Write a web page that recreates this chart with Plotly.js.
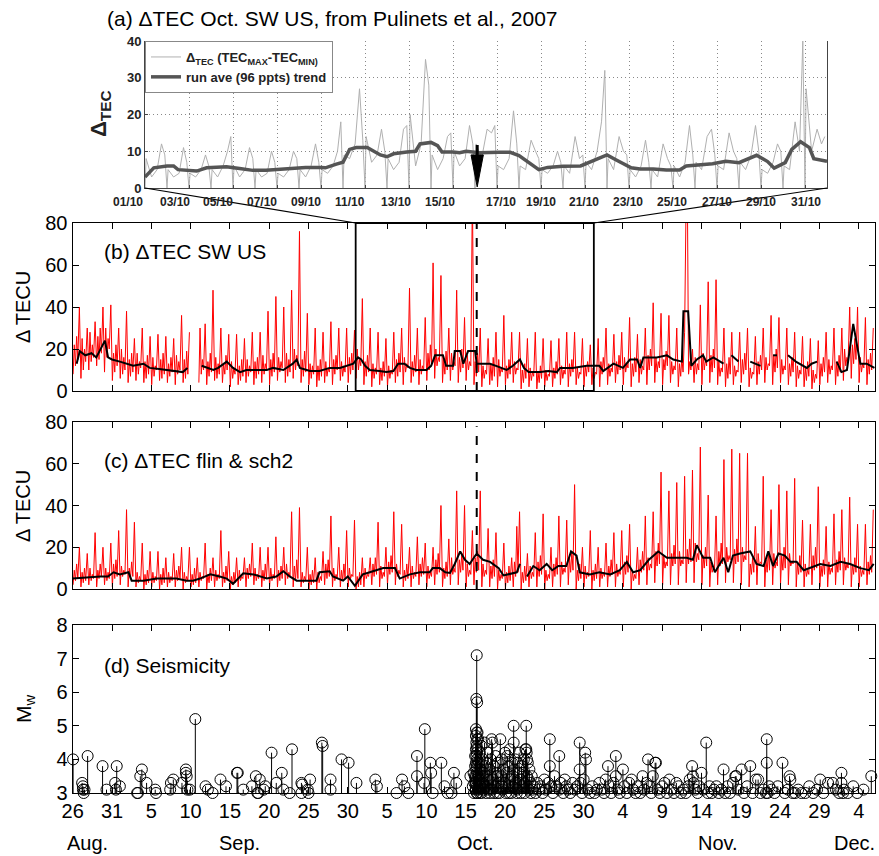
<!DOCTYPE html>
<html><head><meta charset="utf-8">
<script src="https://cdn.plot.ly/plotly-3.0.1.min.js"></script>
<style>html,body{margin:0;padding:0;background:#fff}#chart{width:879px;height:856px}</style>
</head><body><div id="chart"></div>
<script>
// ---------------- DATA ----------------
// x of panels b-d: days since 26 Aug 2007
const xTickLabels = ['26','31','5','10','15','20','25','30','5','10','15','20','25','30','4','9','14','19','24','29','4'];
const monthLabels = ['Aug.','Sep.','Oct.','Nov.','Dec.'];
const aTickLabels = ['01/10','03/10','05/10','07/10','09/10','11/10','13/10','15/10','17/10','19/10','21/10','23/10','25/10','27/10','29/10','31/10'];

// (b) dTEC SW US, 6 samples per day
const tecSW = [
 8,22,12,26,15,40, 6,25,10,20,14,30, 10,28,14,22,16,33, 12,26,15,30,18,40, 9,30,16,25,20,41,
 5,18,9,22,12,30, 6,20,8,16,10,38, 4,15,7,18,9,25, 5,18,8,14,11,30, 4,14,6,17,8,26,
 3,16,7,12,10,27, 5,15,6,18,8,26, 4,13,7,16,9,25, 3,17,8,14,10,36, 4,15,6,19,8,28,
 null,null,null,null,null,null, 4,30,8,15,10,32, 3,14,7,18,9,48, 5,16,6,13,8,30, 4,13,8,17,10,27,
 2,14,6,11,8,27, 3,12,5,15,7,25, 4,15,7,12,9,28, 3,14,6,16,8,28, 4,17,8,13,10,38,
 3,15,7,18,9,45, 5,16,9,14,11,40, 4,18,7,15,9,48, 6,20,10,17,12,76, 4,15,7,19,9,37,
 3,13,6,12,8,30, 2,12,5,15,7,28, 4,14,7,11,9,33, 3,15,8,17,10,30, 5,14,7,12,9,30,
 4,16,8,18,10,29, 6,20,10,15,12,44, 3,14,7,17,9,30, 2,13,6,11,8,28, 3,11,5,14,7,25,
 2,12,6,10,8,28, 4,15,7,18,9,30, 3,16,9,13,11,49, 4,14,7,17,9,30, 3,15,8,12,10,35,
 5,18,10,22,12,61, 6,20,12,16,14,55, 4,15,8,19,10,30, 5,18,10,14,12,48, 4,16,9,20,11,35,
 5,17,10,14,12,95, 3,14,7,18,9,30, 2,12,6,10,8,25, 3,13,5,16,7,28, 2,15,7,11,9,36,
 3,12,6,15,8,28, 4,14,8,11,10,28, 1,10,4,13,6,25, 2,11,5,9,7,28, 1,9,4,12,6,25,
 2,10,5,8,7,24, 2,11,6,14,8,25, 3,12,6,10,8,28, 2,13,7,15,9,28, 3,11,6,9,8,25,
 2,12,7,14,9,22, 3,11,6,9,8,25, 2,14,8,16,10,30, 3,13,7,11,9,27, 4,14,8,17,10,28,
 3,16,9,13,11,35, 2,13,7,16,9,27, 4,15,8,12,10,30, 3,17,10,20,12,42, 4,16,9,14,11,37,
 3,15,10,19,12,36, 4,14,8,12,10,30, 2,13,7,16,9,28, 95,95,8,14,10,20, 4,16,8,13,10,41,
 3,18,10,15,12,52, 4,17,9,20,11,53, 3,14,7,11,9,30, 2,13,6,16,8,28, 3,12,7,10,9,28,
 4,15,8,18,10,30, 2,11,6,9,8,26, 3,14,8,17,10,30, 4,16,10,13,12,36, 3,17,9,20,11,35,
 4,15,8,12,10,30, 3,13,7,16,9,28, 2,12,6,10,8,26, 2,11,5,14,7,25, 1,10,4,8,6,24,
 3,13,7,16,9,28, 4,15,8,12,10,30, 3,14,7,17,9,30, 5,20,12,16,14,40, 6,22,13,25,15,40,
 4,16,9,13,11,35, 3,15,8,18,10,30
];
// (c) dTEC flin & sch2, 6 samples per day
const tecFS = [
 2,9,4,12,5,20, 1,8,3,10,4,17, 2,10,4,7,5,27, 1,9,5,12,6,20, 2,10,4,8,5,22,
 1,12,5,14,6,28, 2,11,6,9,7,38, 1,10,5,13,6,32, 1,8,3,6,4,22, 0,7,2,9,3,18,
 1,8,3,6,4,18, 0,7,2,10,3,15, 1,8,3,6,4,17, 1,9,4,11,5,20, 0,8,3,6,4,20,
 1,7,2,10,3,15, 1,8,4,6,5,22, 0,7,3,10,4,15, 1,9,4,7,5,28, 1,8,3,11,4,18,
 0,6,2,8,3,15, 1,9,4,6,5,15, 1,10,5,12,6,22, 2,10,4,7,5,20, 1,9,4,12,5,20,
 1,10,4,7,5,25, 1,9,4,11,5,20, 2,12,5,8,6,37, 1,11,4,14,5,39, 1,8,3,6,4,20,
 0,7,2,9,3,15, 0,8,3,6,4,18, 2,12,5,14,6,35, 1,10,4,7,5,20, 1,9,4,12,5,28,
 1,10,5,7,6,33, 0,6,1,8,2,15, 1,10,5,7,6,15, 2,12,6,15,7,32, 1,11,5,8,6,20,
 2,13,7,16,8,37, 2,12,6,9,7,31, 1,9,4,12,5,20, 1,11,5,8,6,25, 2,12,6,15,7,22,
 1,11,5,8,6,20, 2,14,7,17,8,40, 1,10,5,13,6,24, 2,15,7,10,8,47, 2,14,8,17,9,40,
 1,12,6,9,7,28, 2,15,8,18,9,47, 1,12,6,9,7,29, 1,11,5,14,6,27, 0,9,4,7,5,22,
 0,8,3,11,4,15, 1,13,6,30,8,37, 0,8,3,11,4,17, 1,11,5,8,6,27, 1,13,6,16,7,36,
 0,9,4,7,5,20, 1,12,6,15,7,35, 1,13,7,10,8,33, 2,15,8,18,9,50, 0,9,4,12,5,20,
 1,11,5,8,6,28, 0,9,4,12,5,20, 1,10,5,8,6,22, 1,11,6,14,7,27, 1,12,6,9,7,28,
 1,13,7,16,8,31, 0,9,4,7,5,20, 2,14,8,18,9,35, 2,15,9,12,10,37, 3,18,11,22,12,56,
 2,16,10,13,11,47, 2,17,11,21,12,51, 2,18,11,14,12,54, 3,19,12,24,13,57, 3,22,13,17,14,68,
 2,16,10,20,11,45, 1,13,8,10,9,35, 2,18,11,22,12,62, 3,20,13,16,14,67, 3,19,12,24,13,65,
 2,20,13,16,14,65, 1,12,7,15,8,30, 2,17,11,13,12,54, 1,14,8,18,9,38, 2,17,10,13,11,50,
 2,16,9,20,10,47, 2,17,11,13,12,53, 1,12,7,16,8,33, 1,12,6,9,7,31, 2,16,9,20,10,49,
 1,11,6,14,7,30, 1,13,7,10,8,36, 2,14,8,18,9,38, 2,15,9,12,10,44, 1,12,7,15,8,31,
 1,11,6,9,7,31, 2,13,7,16,8,38
];
// running-average trends [day, value]
const trendSW = [[0.5,13],[0.9,19],[1.6,17],[2.4,18],[3.0,16],[3.5,20],[4.1,24],[4.5,16],[5.0,15],[6.0,14],
 [6.9,13],[7.7,12],[9.0,13],[9.8,11],[11,10.5],[12,10],[13,9.5],[14,9],[14.6,11],[15.5,null],
 [16.4,12],[17.2,11],[17.9,10],[18.5,11],[19.6,14],[20.4,11],[21.3,9],[22.1,10],[23.5,10],[24.7,10],
 [25.5,11],[26.8,10],[28.0,13],[28.5,15],[28.9,11],[30.2,9.5],[31.4,9.5],[32.7,11],[34.0,11],[35.0,12],
 [35.7,13],[36.3,16],[36.7,15],[37.2,12],[37.8,10],[39.0,9.5],[39.9,9],[40.8,9.5],[41.4,13],[42.2,13],
 [42.9,11],[43.7,10],[45.0,10],[45.6,12],[46.1,17],[47.1,17],[47.5,12],[48.4,12],[48.6,19],[49.3,19],
 [49.7,13],[50.3,19],[51.2,19],[51.4,13],[53.1,13],[54.2,11.5],[55.2,10],[56.0,12],[56.9,15],[57.4,11],
 [58.0,9],[59.5,9],[60.5,9.5],[61.6,9],[62.0,11],[63.6,11],[64.5,11.5],[65.4,12],[67.0,12],[67.5,9.5],
 [68.8,13],[70.0,11],[70.9,15],[71.8,15],[72.2,11],[72.6,16],[74.3,16],[75.0,16.5],[75.6,17],[76.4,15],
 [77.0,14.5],[77.5,14],[77.7,38],[78.3,38],[78.7,12],[79.4,15],[80.2,17],[80.6,14],[81.5,16],[82.8,13],
 [83.3,null],[83.8,17],[84.7,14],[85.5,null],[86.2,14],[87.5,12],[88.3,null],[89.1,17],[89.6,17],[90.3,null],
 [91.0,17],[92.0,14],[93.4,11],[94.0,13],[94.7,14],[96.0,null],[97.2,14],[97.8,9],[98.5,10],[99.3,32],
 [100.2,13],[101.0,13],[102.0,11]];
const trendFS = [[0,5],[1.5,5.5],[3.5,6],[4.5,6],[5.2,8],[6,7],[7.1,8],[7.5,4],[9,4],[10.7,5],
 [13.2,5],[14.5,4],[15.3,4],[16.2,5],[17.5,7],[18.7,6],[19.6,5],[20.4,2.5],[21.7,7.5],[23,7],
 [23.8,6],[24.7,5],[25.9,6],[26.8,8.5],[27.6,6],[28.5,4],[31,4],[31.4,8],[32.7,8.5],[33.1,6],
 [34.4,4],[35,6],[35.9,1.5],[36.9,7],[37.8,8],[39.5,10],[41,10],[41.6,5],[42.9,7],[44.2,8],
 [45.4,8],[45.8,10],[46.7,10],[47.4,8],[48,7.7],[48.6,12],[49.3,18],[49.9,14],[50.5,12],[50.9,14],
 [51.4,17],[52.2,14],[53.1,13],[54.2,10],[54.8,6.5],[56.5,8],[56.9,12],[57.3,null],[57.8,6],[58.6,11],
 [59.4,9],[60.3,12],[61,9],[61.8,11],[62.8,11],[63.4,18],[64.1,16],[64.5,8],[65.8,7],[67,8],
 [68.4,7],[69.6,9],[70.5,13],[71.3,8],[72.2,9],[73.3,14],[74.5,18],[75.6,15],[76.4,15],[78.1,15],
 [78.9,14],[79.4,21],[80.2,15],[81.1,15],[81.7,8],[82.8,15],[83.4,8],[84,16],[84.9,17],[86.2,18],
 [87,12],[87.9,11],[88.5,18],[89.1,11],[89.8,17],[90.6,16],[91.3,13],[92.1,13],[93,9],[93.8,10],
 [95.1,12],[96.4,11],[97.7,13],[98.9,12],[100.2,10],[101.3,9],[101.9,12]];

// (a) Pulinets et al. October series (days since 1 Oct), 6 samples per day
const tecPulinets = [
 0,8,3,5,12,9, 0,5,3,4,11,7, 0,4,3,5,9,6, 0,5,3,6,10,14, 0,6,3,5,11,8,
 0,5,3,4,10,7, 0,4,3,5,10,8, 0,5,3,6,12,7, 0,5,4,6,10,18, 0,9,8,12,27,13,
 0,14,7,9,16,10, 0,8,5,7,16,17, 0,20,6,12,35,28, 0,9,5,8,14,15, 0,10,6,8,17,12,
 0,12,8,16,15,17, 0,6,5,8,21,12, 0,6,5,13,10,8, 0,5,4,6,10,7, 0,6,4,14,8,9,
 0,7,5,10,18,32, 0,8,5,14,10,9, 0,5,3,6,13,7, 0,5,3,12,8,6, 0,6,3,7,17,9,
 0,7,5,14,16,9, 0,6,5,15,10,8, 0,7,5,9,17,10, 0,5,4,7,12,10, 0,6,5,18,10,40,
 0,27,10,16,12,14
];
const trendPulinets = [[0,3],[0.4,5.5],[1,6],[1.3,6],[1.5,5],[2.35,4.6],[2.8,5.5],[3.7,5.8],[4.3,5.3],[4.9,4.8],
 [5.5,4.8],[6,5],[6.6,5.4],[7.3,5.6],[8,5.6],[8.2,5.5],[8.7,6.5],[9,7],[9.3,10.5],[9.6,11],
 [10.1,11],[10.4,10],[10.7,9],[11,8.5],[11.3,9.3],[11.9,9.8],[12.3,10],[12.5,12],[13,12.4],[13.3,11.5],
 [13.5,9.8],[14,9.8],[14.3,9.6],[14.6,10],[15.2,9.6],[16.1,9.7],[16.6,9.7],[17,8.8],[17.5,6.6],[17.9,5],
 [18.3,5.6],[19,5.9],[19.8,6],[20.4,7.4],[21,9],[21.4,7.7],[22.1,5.5],[22.5,5.2],[23.1,5.2],[23.7,4.9],
 [24.3,4.9],[24.6,6],[25.2,6.2],[25.8,6.6],[26.4,7.3],[27,6.9],[27.8,8.9],[28.3,7.2],[28.6,5.4],[29.1,6.9],
 [29.4,10.5],[29.8,12.6],[30.2,11],[30.4,8],[31,7.3]];

// (d) earthquakes [day since 26 Aug, Mw]
const quakes = [
 [0.05,4.0],[1.2,3.3],[1.3,3.2],[1.3,3.1],[1.4,3.0],[1.5,3.1],[1.9,4.1],[3.8,3.8],[4.3,3.1],[5.4,3.3],
 [5.6,3.8],[5.5,3.1],[6.0,3.2],[8.2,3.0],[8.3,3.0],[8.6,3.5],[8.8,3.7],[9.4,3.3],[10.5,3.1],[10.6,3.0],
 [12.4,3.1],[12.5,3.3],[12.8,3.4],[13.9,3.3],[14.4,3.7],[14.4,3.6],[14.5,3.5],[14.6,3.1],[14.9,3.1],[15.6,5.2],
 [16.9,3.2],[17.2,3.1],[17.8,3.0],[18.8,3.4],[19.5,3.2],[20.9,3.6],[21.0,3.6],[21.7,3.1],[22.8,3.2],[23.3,3.5],
 [23.5,3.0],[23.6,3.0],[23.8,3.4],[24.3,3.1],[24.5,3.2],[25.3,4.2],[25.9,3.3],[26.6,3.6],[26.8,3.1],[27.6,3.0],
 [27.9,4.3],[29.1,3.3],[29.2,3.25],[29.1,3.0],[29.9,3.1],[30.0,3.0],[30.2,3.4],[31.7,4.5],[31.8,4.4],[32.8,3.4],
 [32.8,3.1],[34.2,4.0],[35.1,3.9],[36.1,3.3],[38.5,3.4],[38.7,3.2],[41.2,3.0],[41.9,3.4],[42.2,3.2],[42.7,3.0],
 [43.8,4.1],[43.8,3.5],[44.7,3.3],[44.8,4.9],[45.5,3.9],[45.6,3.6],[45.8,3.0],[46.9,3.9],[47.3,3.2],[47.7,3.0],
 [48.2,3.0],[48.5,3.6],[48.8,3.3],[50.6,3.5],[50.9,3.2],[51.0,3.6],[51.05,3.0],[51.1,3.3],[51.15,3.5],[51.2,4.1],
 [51.2,3.8],[51.4,7.1],[51.35,5.8],[51.45,5.7],[51.3,4.9],[51.4,4.8],[51.5,4.8],[51.3,4.7],[51.45,4.6],[51.35,4.5],
 [51.4,4.4],[51.3,4.3],[51.5,4.3],[51.4,4.2],[51.35,4.1],[51.45,4.0],[51.3,3.9],[51.5,3.9],[51.4,3.8],[51.35,3.7],
 [51.45,3.6],[51.3,3.5],[51.5,3.5],[51.4,3.4],[51.35,3.3],[51.45,3.2],[51.3,3.1],[51.5,3.0],[51.4,3.0],[51.6,4.6],
 [51.7,3.9],[51.8,4.2],[51.7,3.4],[51.9,3.7],[52.0,4.4],[52.1,3.3],[52.2,4.0],[52.3,3.6],[52.4,4.5],[52.5,3.2],
 [52.6,3.9],[52.7,3.5],[52.8,4.2],[52.9,3.1],[53.0,3.7],[51.6,3.1],[51.8,3.0],[52.0,3.0],[52.3,3.1],[52.6,3.0],
 [52.9,3.4],[53.1,3.0],[51.9,3.2],[52.2,3.5],[52.5,3.8],[53.2,4.0],[53.3,4.6],[53.4,4.5],[53.5,3.4],[53.6,3.8],
 [53.7,3.2],[53.8,4.1],[53.9,3.6],[54.0,3.0],[54.1,3.9],[54.2,3.3],[54.4,4.6],[54.5,3.5],[54.6,4.0],[54.7,3.1],
 [54.8,3.7],[54.9,3.3],[55.0,4.2],[53.3,3.1],[53.6,3.0],[54.0,3.5],[54.3,3.0],[54.6,3.2],[55.1,3.0],[55.2,3.6],
 [55.3,4.1],[55.4,3.2],[55.5,3.8],[55.6,4.3],[55.7,3.4],[55.8,3.0],[55.9,3.9],[56.0,3.5],[56.1,5.0],[56.1,4.5],
 [56.2,3.7],[56.3,4.0],[56.4,3.3],[56.5,3.1],[56.6,3.9],[56.7,3.6],[56.8,4.2],[56.9,3.4],[57.0,3.0],[57.1,3.8],
 [57.2,3.2],[57.3,3.6],[57.4,4.0],[57.5,3.3],[57.6,4.3],[57.7,5.0],[57.7,4.3],[57.75,4.2],[57.8,4.0],[57.8,3.5],
 [57.9,3.9],[58.0,3.1],[58.1,3.7],[58.2,3.3],[58.3,3.0],[58.4,3.5],[58.5,3.1],[55.5,3.0],[56.0,3.2],[56.5,3.0],
 [57.0,3.4],[57.5,3.0],[58.0,3.4],[58.7,3.2],[58.9,3.0],[59.1,3.3],[59.3,3.1],[59.5,3.2],[59.8,3.0],[60.0,3.4],
 [60.2,3.1],[60.5,3.3],[60.7,4.6],[60.7,3.8],[60.9,3.2],[61.1,3.0],[61.3,3.5],[61.5,3.2],[61.9,4.1],[61.9,3.1],
 [62.1,3.3],[62.4,3.0],[62.6,3.4],[62.8,3.2],[63.0,3.1],[63.3,3.0],[63.6,3.3],[63.9,3.1],[64.2,3.2],[64.5,4.5],
 [64.5,3.7],[64.6,3.3],[64.8,3.0],[65.0,3.4],[65.2,4.2],[65.3,4.0],[65.5,3.1],[65.8,3.0],[66.1,3.2],[66.4,3.0],
 [66.7,3.1],[67.0,3.3],[67.3,3.1],[67.6,3.0],[67.8,3.4],[68.1,3.8],[68.3,3.2],[68.5,3.0],[68.8,3.3],[69.1,4.1],
 [69.1,3.5],[69.3,3.1],[69.6,3.0],[70.0,3.7],[70.2,3.2],[70.5,3.0],[70.8,3.3],[71.1,3.4],[71.3,3.1],[71.6,3.0],
 [71.9,3.2],[72.2,3.0],[72.5,3.5],[72.7,3.1],[73.0,3.3],[73.2,4.0],[73.4,3.2],[73.6,3.0],[73.8,3.5],[74.1,3.9],
 [74.2,3.9],[74.4,3.1],[74.7,3.0],[75.0,3.2],[75.3,3.3],[75.6,3.0],[75.9,3.4],[76.2,3.1],[76.5,3.0],[76.8,3.3],
 [77.1,3.2],[77.4,3.0],[77.7,3.1],[78.0,3.0],[78.3,3.2],[78.5,3.4],[78.8,3.8],[78.9,3.5],[79.0,3.3],[79.2,3.1],
 [79.5,3.0],[79.7,3.2],[80.0,3.6],[80.2,3.1],[80.6,4.5],[80.8,3.0],[81.0,3.2],[81.3,3.0],[81.6,3.1],[81.9,3.2],
 [82.2,3.0],[82.5,3.1],[82.8,3.7],[83.0,3.0],[83.3,3.2],[83.6,3.0],[84.0,3.3],[84.3,3.5],[84.4,3.5],[84.7,3.1],
 [85.1,3.7],[85.4,3.0],[85.8,3.2],[86.2,3.8],[86.5,3.0],[86.9,3.4],[87.2,3.4],[87.5,3.0],[87.9,3.1],[88.2,3.0],
 [88.3,4.6],[88.3,3.9],[88.4,3.0],[88.6,3.2],[88.9,3.1],[89.3,3.0],[89.7,3.2],[90.3,3.9],[90.6,3.0],[91.0,3.1],
 [91.2,3.5],[91.3,3.4],[91.6,3.0],[91.9,3.0],[92.3,3.1],[92.7,3.0],[93.2,3.0],[93.7,3.2],[94.2,3.0],[94.7,3.1],
 [95.1,3.4],[95.5,3.0],[96.1,3.3],[96.7,3.3],[97.1,3.1],[97.5,3.0],[97.8,3.6],[97.8,3.3],[98.0,3.0],[98.1,3.1],
 [98.6,3.0],[99.3,3.2],[99.8,3.0],[100.6,3.1],[101.6,3.5]
];

// ---------------- LAYOUT CONSTANTS ----------------
const W = 879, H = 856;
const FONT = 'Liberation Sans, Arial, Helvetica, sans-serif';
const xp = p => p / W, yp = p => 1 - p / H;
const domAx = [xp(145), xp(827)], domAy = [yp(188), yp(41)];
const domX = [xp(72.7), xp(875)];
const domB = [yp(391), yp(223)], domC = [yp(589), yp(422)], domD = [yp(793), yp(625)];
const XMAX = 102.07, AMAX = 31;
const eqDay = 51.4;          // dashed marker (days since 26 Aug)
const eqDayA = 15.1;         // arrow in panel (a) (days since 1 Oct)
const boxStart = 36, boxEnd = 66.3;
const monthPos = [1.9, 21.2, 51.2, 82.1, 99.5];
// label anchors of the pasted panel (a) (days since 1 Oct)
const aTickLabelPos = [-0.79, 1.36, 3.33, 5.32, 7.31, 9.31, 11.41, 13.41, 16.2, 17.98, 19.95, 21.95, 23.95, 25.99, 27.99, 30.04];
const sampleOffsets6 = [0.05, 0.2, 0.35, 0.5, 0.65, 0.85];
const sampleOffsetsA = [0, 0.05, 0.3, 0.55, 0.75, 0.9];

function expand(vals, offs) {
  const x = [], y = [];
  vals.forEach((v, i) => { x.push(Math.floor(i / offs.length) + offs[i % offs.length]); y.push(v); });
  return {x, y};
}
const sw = expand(tecSW, sampleOffsets6);
const fs = expand(tecFS, sampleOffsets6);
const pa = expand(tecPulinets, sampleOffsetsA);

const traces = [
  {x: pa.x, y: pa.y, xaxis: 'x', yaxis: 'y', mode: 'lines', line: {color: '#b0b0b0', width: 1},
   name: 'Δ<sub>TEC</sub> (TEC<sub>MAX</sub>-TEC<sub>MIN)</sub>', showlegend: true},
  {x: trendPulinets.map(p => p[0]), y: trendPulinets.map(p => p[1]), xaxis: 'x', yaxis: 'y', mode: 'lines',
   line: {color: '#555555', width: 3.5}, name: 'run ave (96 ppts) trend', showlegend: true},
  {x: sw.x, y: sw.y, xaxis: 'x2', yaxis: 'y2', mode: 'lines', line: {color: '#ff0000', width: 1}, showlegend: false, connectgaps: false},
  {x: trendSW.map(p => p[0]), y: trendSW.map(p => p[1]), xaxis: 'x2', yaxis: 'y2', mode: 'lines',
   line: {color: '#000', width: 2}, showlegend: false, connectgaps: false},
  {x: fs.x, y: fs.y, xaxis: 'x3', yaxis: 'y3', mode: 'lines', line: {color: '#ff0000', width: 1}, showlegend: false},
  {x: trendFS.map(p => p[0]), y: trendFS.map(p => p[1]), xaxis: 'x3', yaxis: 'y3', mode: 'lines',
   line: {color: '#000', width: 2}, showlegend: false, connectgaps: false},
  {x: quakes.map(q => q[0]), y: quakes.map(q => q[1]), xaxis: 'x4', yaxis: 'y4', mode: 'markers',
   marker: {symbol: 'circle-open', size: 11, color: '#000', line: {width: 1, color: '#000'}},
   error_y: {type: 'data', symmetric: false, array: quakes.map(() => 0), arrayminus: quakes.map(q => q[1] - 3),
             color: '#000', thickness: 1, width: 0},
   cliponaxis: false, showlegend: false}
];

const tick5 = xTickLabels.map((_, i) => i * 5);
const baseX = {domain: domX, range: [0, XMAX], tickvals: tick5, ticks: 'inside', ticklen: 6, tickwidth: 1, tickcolor: '#000',
  showline: true, linecolor: '#000', linewidth: 1.2, mirror: 'ticks', showgrid: false, zeroline: false, fixedrange: true};
const baseY = {ticks: 'inside', ticklen: 6, tickwidth: 1, tickcolor: '#000', showline: true, linecolor: '#000', linewidth: 1.2,
  mirror: 'ticks', showgrid: false, zeroline: false, tickfont: {family: FONT, size: 20, color: '#000'}, fixedrange: true};

const aFont = {family: FONT, size: 12, weight: 'bold', color: '#222'};
const layout = {
  width: W, height: H, margin: {l: 0, r: 0, t: 0, b: 0, pad: 0},
  paper_bgcolor: '#fff', plot_bgcolor: '#fff', font: {family: FONT, color: '#000'},
  xaxis: {domain: domAx, anchor: 'y', range: [0, AMAX], tickvals: aTickLabels.map((_, i) => i * 2), showticklabels: false,
    ticks: 'inside', ticklen: 3, tickcolor: '#444', showline: true, linecolor: '#444', linewidth: 1,
    showgrid: true, gridcolor: '#888', griddash: '1px,3px', gridwidth: 1, zeroline: false, fixedrange: true},
  yaxis: {domain: domAy, anchor: 'x', range: [0, 40], dtick: 10, tickfont: {family: FONT, size: 13, weight: 'bold', color: '#222'},
    ticks: 'inside', ticklen: 3, tickcolor: '#444', showline: true, linecolor: '#444', linewidth: 1, mirror: true,
    showgrid: true, gridcolor: '#888', griddash: '1px,3px', gridwidth: 1, zeroline: false, fixedrange: true},
  xaxis2: Object.assign({}, baseX, {anchor: 'y2', showticklabels: false}),
  yaxis2: Object.assign({}, baseY, {domain: domB, anchor: 'x2', range: [0, 80], dtick: 20}),
  xaxis3: Object.assign({}, baseX, {anchor: 'y3', showticklabels: false}),
  yaxis3: Object.assign({}, baseY, {domain: domC, anchor: 'x3', range: [0, 80], dtick: 20}),
  xaxis4: Object.assign({}, baseX, {anchor: 'y4', showticklabels: true, ticktext: xTickLabels,
    tickfont: {family: FONT, size: 20, color: '#000'}}),
  yaxis4: Object.assign({}, baseY, {domain: domD, anchor: 'x4', range: [3, 8], dtick: 1}),
  legend: {x: xp(145), y: yp(41), xanchor: 'left', yanchor: 'top', bgcolor: '#fff', bordercolor: '#888', borderwidth: 1,
    font: {family: FONT, size: 13, weight: 'bold', color: '#222'}, tracegroupgap: 0, itemwidth: 30},
  showlegend: true,
  annotations: [],
  shapes: []
};

const ann = layout.annotations;
const ax = d => domAx[0] + d / AMAX * (domAx[1] - domAx[0]);
ann.push({text: '(a) ΔTEC Oct. SW US, from Pulinets et al., 2007', xref: 'paper', yref: 'paper', x: xp(332), y: yp(18),
  showarrow: false, xanchor: 'center', yanchor: 'middle', font: {family: FONT, size: 21, color: '#000'}});
ann.push({text: 'Δ<sub>TEC</sub>', xref: 'paper', yref: 'paper', x: xp(100), y: yp(114), textangle: -90,
  showarrow: false, xanchor: 'center', yanchor: 'middle', font: {family: FONT, size: 22, weight: 'bold', color: '#222'}});
aTickLabels.forEach((t, i) => ann.push({text: t, xref: 'paper', yref: 'paper', x: ax(aTickLabelPos[i]), y: yp(202), showarrow: false,
  xanchor: 'center', yanchor: 'middle', font: aFont}));
[['(b) ΔTEC SW US', 252], ['(c) ΔTEC flin &amp; sch2', 460], ['(d) Seismicity', 665]].forEach(([t, py]) =>
  ann.push({text: t, xref: 'paper', yref: 'paper', x: xp(102), y: yp(py), showarrow: false, xanchor: 'left', yanchor: 'middle',
    font: {family: FONT, size: 21, color: '#000'}}));
[['Δ TECU', 307], ['Δ TECU', 506]].forEach(([t, py]) =>
  ann.push({text: t, xref: 'paper', yref: 'paper', x: xp(23), y: yp(py), textangle: -90, showarrow: false,
    xanchor: 'center', yanchor: 'middle', font: {family: FONT, size: 20, color: '#000'}}));
ann.push({text: 'M<sub>w</sub>', xref: 'paper', yref: 'paper', x: xp(25), y: yp(709), textangle: -90, showarrow: false,
  xanchor: 'center', yanchor: 'middle', font: {family: FONT, size: 21, color: '#000'}});
monthLabels.forEach((m, i) => ann.push({text: m, xref: 'x4', yref: 'paper', x: monthPos[i], y: yp(843), showarrow: false,
  xanchor: 'center', yanchor: 'middle', font: {family: FONT, size: 20, color: '#000'}}));

const shp = layout.shapes;
const bx = d => domX[0] + d / XMAX * (domX[1] - domX[0]);
shp.push({type: 'rect', xref: 'x2', yref: 'y2', x0: boxStart, x1: boxEnd, y0: 0, y1: 80, line: {color: '#000', width: 1.8}});
shp.push({type: 'line', xref: 'paper', yref: 'paper', x0: domAx[0], y0: domAy[0], x1: bx(boxStart), y1: domB[1], line: {color: '#000', width: 1.2}});
shp.push({type: 'line', xref: 'paper', yref: 'paper', x0: domAx[1], y0: domAy[0], x1: bx(boxEnd), y1: domB[1], line: {color: '#000', width: 1.2}});
shp.push({type: 'line', xref: 'x2', yref: 'y2', x0: eqDay, x1: eqDay, y0: 0, y1: 80, line: {color: '#000', width: 2, dash: 'dash'}});
shp.push({type: 'line', xref: 'x3', yref: 'y3', x0: eqDay, x1: eqDay, y0: 0, y1: 78, line: {color: '#000', width: 2, dash: 'dash'}});
shp.push({type: 'line', xref: 'x', yref: 'y', x0: eqDayA, x1: eqDayA, y0: 8, y1: 11.7, line: {color: '#000', width: 3}});
shp.push({type: 'path', xref: 'x', yref: 'y', path: `M ${eqDayA - 0.28},9 L ${eqDayA + 0.28},9 L ${eqDayA},0.3 Z`,
  fillcolor: '#000', line: {color: '#000', width: 1}});

Plotly.newPlot('chart', traces, layout, {displayModeBar: false, staticPlot: true});
</script></body></html>
